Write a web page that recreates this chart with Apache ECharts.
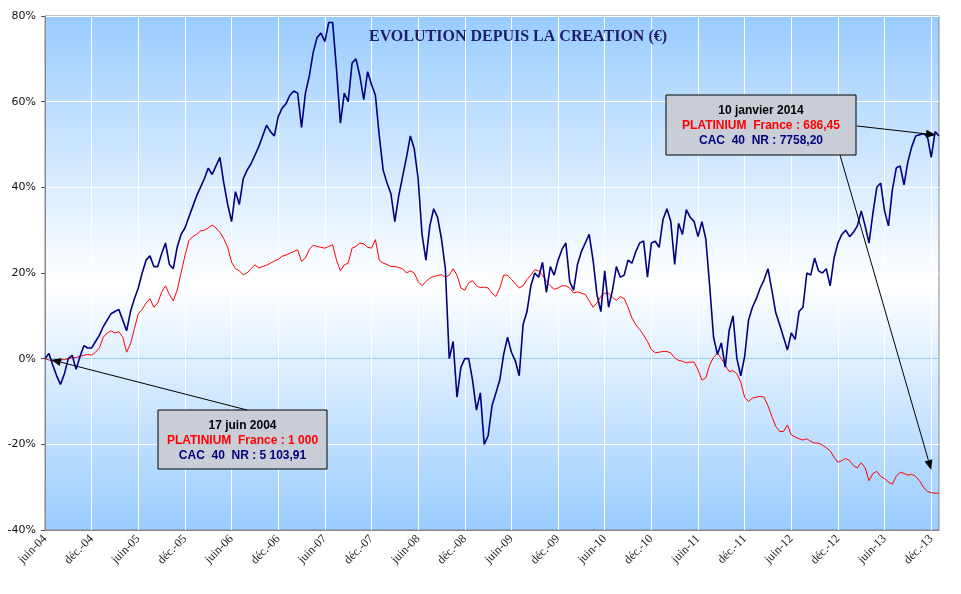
<!DOCTYPE html>
<html lang="fr">
<head>
    <meta charset="UTF-8">
    <title>Evolution depuis la creation</title>
    <style>
        html, body { margin: 0; padding: 0; background: #fff; }
        #main { width: 961px; height: 594px; }
    </style>
</head>
<body>
<div id="main"></div>
<script src="https://cdn.jsdelivr.net/npm/echarts@6/dist/echarts.min.js"></script>
<script>
// tick labels, one every 6 months (12 half-month points)
var tickLabels = ['juin-04', 'déc.-04', 'juin-05', 'déc.-05', 'juin-06', 'déc.-06', 'juin-07', 'déc.-07',
    'juin-08', 'déc.-08', 'juin-09', 'déc.-09', 'juin-10', 'déc.-10', 'juin-11', 'déc.-11',
    'juin-12', 'déc.-12', 'juin-13', 'déc.-13'];

// CAC 40 NR, % since 17 juin 2004, read every half month
var cacNR = [
    0, 1.2, -1.5, -4, -6, -3.5, 0, 0.8, -2.5, 0.5, 3, 2.5,
    2.5, 4, 5.5, 7.5, 9, 10.5, 11, 11.5, 9, 6.5, 11, 14,
    16.5, 20, 23, 24, 21.5, 21.5, 24.5, 27, 22, 21, 26, 29,
    30.5, 33, 35.5, 38, 40, 42, 44.5, 43, 45, 47, 41, 36,
    32, 39, 36, 42, 44, 45.5, 47.5, 49.5, 52, 54.5, 53, 52,
    56.5, 58.5, 59.5, 61.5, 62.5, 62, 54, 62, 66, 71.5, 75, 76,
    74, 78.5, 78.5, 67.5, 55, 62, 60, 69, 70, 66, 60.5, 67,
    64, 61.5, 52, 44, 41, 38.5, 32, 38, 42.5, 47, 52, 49,
    42, 29, 23, 31, 35, 33, 28, 21, 0, 4, -9, -2,
    0, 0, -5, -12, -8, -20, -18, -11, -8, -5, 1, 5,
    1.5, -0.5, -4, 8, 11, 17, 20, 19, 22.5, 15.5, 21.5, 19.5,
    23, 25.5, 27, 18, 16, 22, 25, 27, 29, 23, 15, 11,
    20.5, 12, 16, 21.5, 19, 19.5, 23, 22.3, 25, 27, 27.5, 19,
    27, 27.4, 26, 32.5, 35, 32, 22, 31.6, 29, 34.8, 33, 32,
    28.5, 32, 28, 17, 5, 1, 3.7, -2, 6.5, 10, 0, -4,
    0.5, 9, 12, 14, 16.5, 18.4, 21, 16, 10.7, 8, 5, 2,
    6, 4.5, 11, 12, 20, 19.5, 23.5, 20.5, 20, 21, 17, 23.5,
    27, 29, 30, 28.5, 29.5, 31, 34.5, 31, 27, 34, 40, 41,
    34.5, 31, 39.4, 44.5, 45, 40.6, 46, 49.5, 52, 52.3, 52.5, 52,
    47, 53, 52
];

// PLATINIUM France, % since 17 juin 2004
var platinium = [
    0, -0.3, -0.5, -0.4, -0.3, -0.2, 0, 0.2, 0.3, 0.5, 0.8, 1,
    0.8, 1.5, 2.5, 5, 6, 6.5, 6, 6.3, 5, 1.5, 3.5, 7,
    10.5, 11.5, 13, 14, 12, 13, 15.5, 17, 15, 13.5, 16, 20,
    24, 27.5, 28.5, 29, 29.8, 30, 30.5, 31.2, 30.5, 29.5, 28, 26,
    22.5, 21, 20.5, 19.6, 20, 21, 21.9, 21.2, 21.5, 21.8, 22.3, 22.8,
    23.2, 23.9, 24.2, 24.6, 25, 25.4, 22.7, 23.5, 25.5, 26.5, 26.2, 26,
    25.8, 26.2, 26.6, 23, 20.5, 21.9, 22.3, 25.8, 26.2, 27, 26.8, 26,
    25.8, 27.8, 23, 22.3, 22, 21.5, 21.5, 21.3, 21, 20, 20.5, 20,
    18, 17, 18, 18.8, 19.2, 19.4, 19.6, 19, 19.5, 21, 19.5, 16.5,
    16, 17.7, 18.2, 17, 16.6, 16.7, 16.5, 15.3, 14.5, 16.5, 19.5, 19.5,
    18.5, 17.5, 16.5, 17, 18.5, 19.5, 20.8, 20.5, 19.5, 18, 17, 16.2,
    16.5, 17, 17, 16.5, 15.3, 15.6, 15.3, 15, 13.5, 12, 13, 14.5,
    15.3, 15.3, 14.3, 13.6, 14.5, 14, 12, 9.5, 7.9, 6.8, 5.5, 4,
    2.1, 1.4, 1.5, 1.7, 1.7, 1.3, 0.2, -0.4, -0.6, -1, -0.8, -0.8,
    -2.6, -5, -4.5, -1.5, 0.3, 1.3, 0, -1.5, -3, -2.8, -3.5, -5.5,
    -9, -10, -9.2, -9, -8.8, -9, -11, -13.5, -15.8, -17, -17, -15.5,
    -17.8, -18.3, -18.7, -19, -18.7, -19.3, -19.7, -19.7, -20.2, -20.8, -21.5, -23,
    -24.2, -23.8, -23.3, -23.8, -25, -25.5, -24.3, -25.5, -28.5, -26.8, -26.3, -27.5,
    -28, -28.8, -29.3, -27.5, -26.5, -26.8, -27.2, -27, -27.5, -28.5, -30, -31,
    -31.3, -31.4, -31.4
];

// half-month categories; every 12th one carries a tick label
var categories = cacNR.map(function (v, i) {
    return i % 12 === 0 ? tickLabels[i / 12] : String(i);
});

var myChart = echarts.init(document.getElementById('main'));

var option = {
    animation: false,
    title: {
        text: 'EVOLUTION DEPUIS LA CREATION (€)',
        left: 513,
        top: 24,
        textAlign: 'center',
        textStyle: {
            fontFamily: 'Liberation Serif',
            fontWeight: 'bold',
            fontSize: 16,
            color: '#1d1d6e'
        }
    },
    grid: {
        left: 45,
        right: 22,
        top: 16,
        bottom: 64,
        show: true,
        borderColor: '#888',
        borderWidth: 1,
        backgroundColor: new echarts.graphic.LinearGradient(0, 0, 0, 1, [
            { offset: 0, color: '#99ccff' },
            { offset: 0.52, color: '#ffffff' },
            { offset: 1, color: '#99ccff' }
        ])
    },
    xAxis: {
        type: 'category',
        data: categories,
        boundaryGap: false,
        axisLine: { onZero: false, lineStyle: { color: '#888' } },
        axisTick: { show: false },
        axisLabel: {
            interval: 11,
            rotate: 45,
            margin: 7,
            fontFamily: 'Liberation Serif',
            fontSize: 12,
            color: '#222'
        },
        splitLine: { show: true, interval: 11, lineStyle: { color: '#ffffff', width: 1 } }
    },
    yAxis: {
        type: 'value',
        min: -40,
        max: 80,
        interval: 20,
        axisLine: { show: true, lineStyle: { color: '#888' } },
        axisTick: { show: true, length: 4, lineStyle: { color: '#555' } },
        axisLabel: {
            formatter: '{value}%',
            margin: 9,
            fontFamily: 'DejaVu Sans',
            fontSize: 11,
            color: '#111'
        },
        splitLine: {
            lineStyle: {
                color: ['#ffffff', '#ffffff', '#9ccbe6', '#ffffff', '#ffffff', '#ffffff', '#ffffff'],
                width: 1
            }
        }
    },
    series: [
        {
            name: 'PLATINIUM France',
            type: 'line',
            data: platinium,
            showSymbol: false,
            lineStyle: { color: '#ff0000', width: 1 },
            z: 3
        },
        {
            name: 'CAC 40 NR',
            type: 'line',
            data: cacNR,
            showSymbol: false,
            lineStyle: { color: '#000080', width: 1.6 },
            z: 4
        }
    ]
};
myChart.setOption(option);

// annotation boxes and arrows
function arrow(x1, y1, x2, y2) {
    var a = Math.atan2(y2 - y1, x2 - x1), len = 10, w = 4;
    var bx = x2 - len * Math.cos(a), by = y2 - len * Math.sin(a);
    return [
        { type: 'line', z: 50, shape: { x1: x1, y1: y1, x2: bx, y2: by }, style: { stroke: '#000', lineWidth: 1 } },
        { type: 'polygon', z: 50, shape: { points: [[x2, y2],
            [bx + w * Math.sin(a), by - w * Math.cos(a)],
            [bx - w * Math.sin(a), by + w * Math.cos(a)]] }, style: { fill: '#000' } }
    ];
}
function box(x, y, w, h, lines) {
    var els = [{ type: 'rect', z: 40, shape: { x: x, y: y, width: w, height: h },
        style: { fill: '#c9ced6', stroke: '#000', lineWidth: 1 } }];
    var colors = ['#000', '#ff0000', '#000080'];
    lines.forEach(function (t, i) {
        els.push({ type: 'text', z: 41, x: x + w / 2, y: y + 16 + i * 15,
            style: { text: t, fill: colors[i], font: 'bold 12px "Liberation Sans", Arial',
                align: 'center', verticalAlign: 'middle' } });
    });
    return els;
}
var last = cacNR.length - 1;
var pStart = myChart.convertToPixel({ xAxisIndex: 0, yAxisIndex: 0 }, [0, 0]);
var pCacEnd = myChart.convertToPixel({ xAxisIndex: 0, yAxisIndex: 0 }, [last, cacNR[last]]);
var pPlatTip = myChart.convertToPixel({ xAxisIndex: 0, yAxisIndex: 0 }, [228, -26]);

var els = [];
els = els.concat(arrow(247, 410, pStart[0] + 6, pStart[1] + 1));
els = els.concat(arrow(857, 126, pCacEnd[0] - 3, pCacEnd[1] - 1));
els = els.concat(arrow(840, 155, pPlatTip[0], pPlatTip[1]));
els = els.concat(box(158, 410, 169, 59, ['17 juin 2004', 'PLATINIUM  France : 1 000', 'CAC  40  NR : 5 103,91']));
els = els.concat(box(666, 95, 190, 60, ['10 janvier 2014', 'PLATINIUM  France : 686,45', 'CAC  40  NR : 7758,20']));
myChart.setOption({ graphic: els });
</script>
</body>
</html>
